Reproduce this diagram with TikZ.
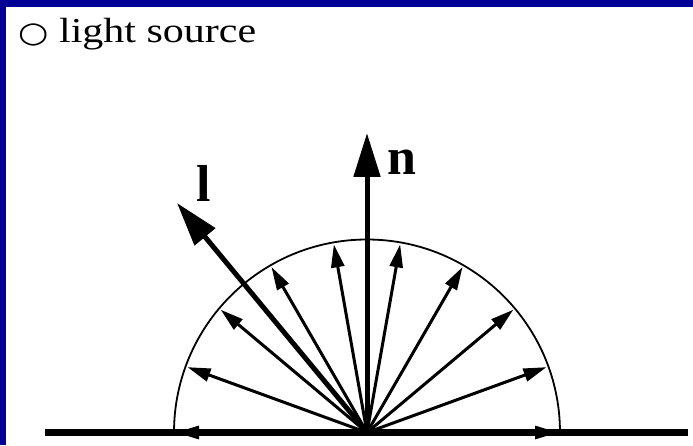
\documentclass[tikz,border=0pt]{standalone}
\usepackage{fontspec}
\setmainfont{Liberation Serif}
\newfontfamily\symfont{DejaVu Sans}
\usetikzlibrary{arrows.meta,calc}
\definecolor{bandblue}{HTML}{000094}
\begin{document}
\begin{tikzpicture}[x=1pt,y=1pt,
  thinarrow/.style={line width=3pt,-{Triangle[length=23pt,width=13pt]}},
  thickarrow/.style={line width=5pt,-{Triangle[length=44pt,width=26pt]}},
  biglabel/.style={font=\fontsize{52}{52}\selectfont\bfseries,inner sep=0pt}]
\fill[white] (0,0) rectangle (693,445);
\useasboundingbox (0,0) rectangle (693,445);
\fill[bandblue] (0,438) rectangle (693,445);
\fill[bandblue] (0,0) rectangle (6,445);
% title
\node[anchor=base west,inner sep=0pt,xscale=1.2,font=\fontsize{35}{35}\selectfont] (title) at (18,402) {{\symfont\fontsize{29}{29}\selectfont ○} light source};
% geometry
\coordinate (O) at (367,12.5);
\draw[line width=1.8pt] (174,12.5) arc[start angle=180,end angle=0,radius=193];
\coordinate (gl) at (45,12.5);
\coordinate (gr) at (688,12.5);
\draw[line width=7pt] (gl) -- (gr);
\foreach \a in {0,20,...,180} {
  \coordinate (t\a) at ($(O)+(\a:191)$);
  \draw[thinarrow] (O) -- (t\a);
}
\coordinate (ntip) at (367,312);
\coordinate (ltip) at (177,242);
\draw[thickarrow] (O) -- (ntip);
\draw[thickarrow] (O) -- (ltip);
\node[biglabel,anchor=base] (nlab) at (402,270) {n};
\node[biglabel,anchor=base] (llab) at (204,243) {l};
\end{tikzpicture}
\end{document}
